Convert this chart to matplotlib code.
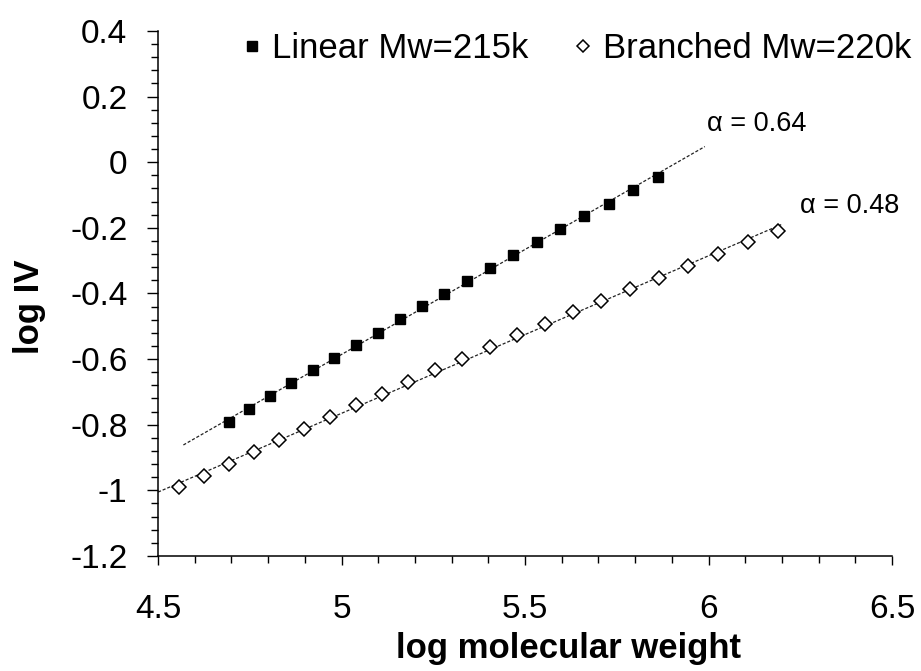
import matplotlib
matplotlib.use("Agg")
import matplotlib.pyplot as plt
import numpy as np
from matplotlib.ticker import MultipleLocator, FuncFormatter

plt.rcParams['font.family'] = ['Liberation Sans', 'DejaVu Sans']
plt.rcParams['axes.unicode_minus'] = False

# log molecular weight / log IV, linear sample
lin_x = [4.693, 4.749, 4.805, 4.862, 4.922, 4.980, 5.039, 5.099, 5.158, 5.219,
         5.280, 5.343, 5.405, 5.468, 5.532, 5.596, 5.661, 5.728, 5.794, 5.862]
lin_y = [-0.792, -0.753, -0.712, -0.674, -0.634, -0.596, -0.558, -0.519, -0.479, -0.439,
         -0.402, -0.362, -0.321, -0.282, -0.242, -0.204, -0.165, -0.126, -0.086, -0.046]

# branched sample
br_x = [4.558, 4.625, 4.693, 4.761, 4.829, 4.898, 4.969, 5.039, 5.110, 5.182, 5.256, 5.329,
        5.404, 5.478, 5.554, 5.630, 5.708, 5.786, 5.865, 5.945, 6.025, 6.107, 6.189]
br_y = [-0.990, -0.955, -0.920, -0.884, -0.848, -0.812, -0.777, -0.741, -0.706, -0.670,
        -0.634, -0.600, -0.564, -0.528, -0.493, -0.457, -0.422, -0.386, -0.352, -0.315,
        -0.280, -0.244, -0.210]

# Mark-Houwink exponents and the x-range of each fit line
alpha_lin = 0.64
alpha_br = 0.48
lin_fit_range = [4.569, 5.990]
br_fit_range = [4.5, 6.2]


def fit_line(x, y, slope, xr):
    x = np.asarray(x)
    y = np.asarray(y)
    b = np.mean(y - slope * x)
    xs = np.array(xr)
    return xs, slope * xs + b


fig = plt.figure(figsize=(9.21, 6.71), dpi=100)
ax = fig.add_axes([0.1716, 0.1714, 0.7969, 0.7824])

dash = (0, (2.5, 1.5))
fx, fy = fit_line(lin_x, lin_y, alpha_lin, lin_fit_range)
ax.plot(fx, fy, color='#222222', lw=0.9, linestyle=dash, zorder=1)
fx, fy = fit_line(br_x, br_y, alpha_br, br_fit_range)
ax.plot(fx, fy, color='#222222', lw=0.9, linestyle=dash, zorder=1)

ax.plot(lin_x, lin_y, linestyle='none', marker='s', ms=7.8, mfc='black', mec='black',
        label='Linear Mw=215k', zorder=3)
ax.plot(br_x, br_y, linestyle='none', marker='D', ms=7.0, mfc='white', mec='black',
        mew=1.1, label='Branched Mw=220k', zorder=3)

ax.text(5.995, 0.116, '\u03b1 = 0.64', fontsize=19.5, ha='left', va='center')
ax.text(6.249, -0.133, '\u03b1 = 0.48', fontsize=19.5, ha='left', va='center')

ax.set_xlim(4.5, 6.5)
ax.set_ylim(-1.2, 0.4)
ax.xaxis.set_major_locator(MultipleLocator(0.5))
ax.xaxis.set_minor_locator(MultipleLocator(0.1))
ax.yaxis.set_major_locator(MultipleLocator(0.2))
ax.yaxis.set_minor_locator(MultipleLocator(0.04))
fmt = FuncFormatter(lambda v, p: '%g' % round(v, 2))
ax.xaxis.set_major_formatter(fmt)
ax.yaxis.set_major_formatter(fmt)

for s in ['top', 'right']:
    ax.spines[s].set_visible(False)
for s in ['left', 'bottom']:
    ax.spines[s].set_linewidth(1.1)

ax.tick_params(axis='x', which='major', direction='out', length=6.5, width=1, pad=21, labelsize=24)
ax.tick_params(axis='x', which='minor', direction='out', length=5, width=1)
ax.tick_params(axis='y', which='major', direction='out', length=8, width=1, pad=14, labelsize=24)
ax.tick_params(axis='y', which='minor', direction='out', length=5, width=1)

ax.set_xlabel('log molecular weight', fontsize=25, fontweight='bold', va='top')
ax.xaxis.set_label_coords(0.559, -0.145)
ax.set_ylabel('log IV', fontsize=25, fontweight='bold')
ax.yaxis.set_label_coords(-0.153, 0.475)

ax.legend(loc='center left', bbox_to_anchor=(0.2623, 0.928), bbox_transform=fig.transFigure,
          ncol=2, frameon=False, fontsize=25, handlelength=0.6, handletextpad=0.28,
          columnspacing=1.27, borderpad=0, borderaxespad=0, markerscale=0.9)

fig.savefig('out.png', dpi=100)
